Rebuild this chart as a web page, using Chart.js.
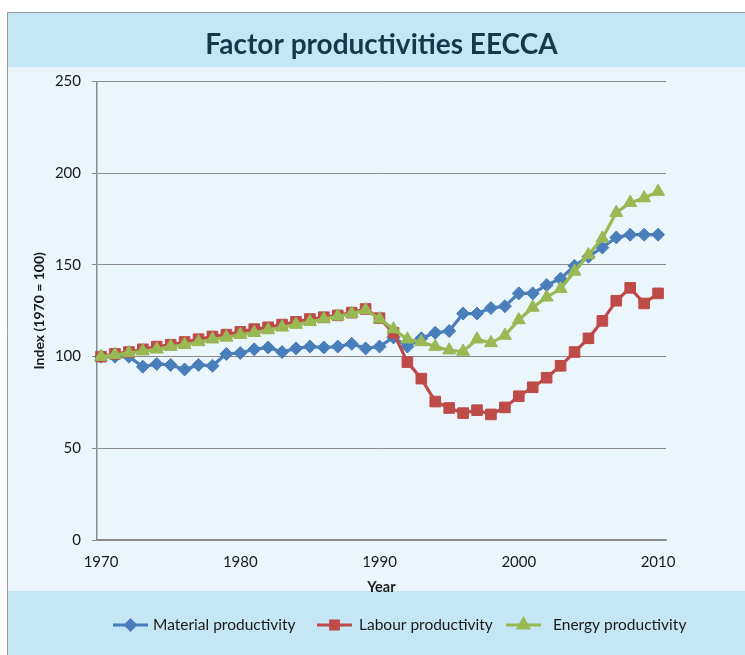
<!DOCTYPE html>
<html>
<head>
<meta charset="utf-8">
<script src="https://cdn.jsdelivr.net/npm/chart.js@4.4.0/dist/chart.umd.min.js"></script>
<style>
html,body{margin:0;padding:0;background:#fff;}
#wrap{width:745px;height:655px;position:relative;}
canvas{display:block;}
</style>
</head>
<body>
<div id="wrap"><canvas id="c" width="745" height="655"></canvas></div>
<script>
const years = [1970,1971,1972,1973,1974,1975,1976,1977,1978,1979,1980,1981,1982,1983,1984,1985,1986,1987,1988,1989,1990,1991,1992,1993,1994,1995,1996,1997,1998,1999,2000,2001,2002,2003,2004,2005,2006,2007,2008,2009,2010];
const materialProductivity = [100,100,100,94.5,96,95.5,93,95.5,95,101.5,102,104,105,102.5,104.5,105.5,105,105.5,107,104.5,105.5,110.5,105.5,110,113,114,123.5,123.5,126.5,127.5,134.5,134.5,139,142.5,149.5,154.5,159.5,165,166.5,166.5,166.5];
const labourProductivity = [100,101.5,102.5,104,105.5,106.5,108,109.5,111,112,113.5,115,116,117.5,119,120.5,121.5,122.5,124,126,121,113,97,88,75.5,72,69.2,70.8,68.5,72.3,78.4,83.3,88.5,95,102.5,110,119.5,130.5,137.5,129,134.5];
const energyProductivity = [100,101,102,103,104,105.5,106.5,108,109.5,110.5,112,113,114.5,116,117.5,119,120.5,122,123.5,125.5,120.5,115,109.5,108,105.5,103.5,102.8,109.5,107.5,111.5,120,126.8,132.4,137,146.5,155.5,164.5,178.5,184,186.5,190];
const xTicks = [1970,1980,1990,2000,2010];
const yTicks = [0,50,100,150,200,250];
const seriesNames = ['Material productivity','Labour productivity','Energy productivity'];
const chartTitle = 'Factor productivities EECCA';
const xTitle = 'Year';
const yTitle = 'Index (1970 = 100)';

const FONT = 'Lato, "Open Sans", "Liberation Sans", sans-serif';
const BLUE = '#4A7EBB', RED = '#BE4B48', GREEN = '#98B954';
const GRID = '#8a8a8a';
const TXT = '#1a1a1a';

function pts(arr){ return years.map((y,i)=>({x:y,y:arr[i]})); }

const frame = {
  id:'frame',
  beforeDraw(chart){
    const ctx = chart.ctx;
    ctx.save();
    ctx.fillStyle = '#ffffff';
    ctx.fillRect(0,0,chart.width,chart.height);
    ctx.fillStyle = '#C5E6F5';
    ctx.fillRect(7,12,chart.width-7,55);
    ctx.fillStyle = '#EBF6FC';
    ctx.fillRect(7,67,chart.width-7,524);
    ctx.fillStyle = '#C5E6F5';
    ctx.fillRect(7,591,chart.width-7,chart.height-591);
    ctx.strokeStyle = '#9a9a9a';
    ctx.lineWidth = 1;
    ctx.beginPath();
    ctx.moveTo(7.5,chart.height);
    ctx.lineTo(7.5,12.5);
    ctx.lineTo(chart.width,12.5);
    ctx.stroke();
    ctx.restore();
  }
};

const legendItems = [
  {lx1:113, lx2:148, tx:153},
  {lx1:317, lx2:352, tx:359},
  {lx1:506, lx2:541, tx:553}
];
const legendRadius = [5,5.5,6];
const customLegend = {
  id:'customLegend',
  afterDraw(chart){
    const ctx = chart.ctx;
    const ly = 625;
    chart.data.datasets.forEach((ds,i)=>{
      const it = legendItems[i];
      ctx.save();
      ctx.strokeStyle = ds.borderColor;
      ctx.lineWidth = 3;
      ctx.beginPath();
      ctx.moveTo(it.lx1,ly); ctx.lineTo(it.lx2,ly); ctx.stroke();
      Chart.helpers.drawPoint(ctx,{pointStyle:ds.pointStyle,radius:legendRadius[i],rotation:0,borderWidth:1},(it.lx1+it.lx2)/2,ly);
      ctx.fillStyle = ds.pointBackgroundColor;
      ctx.fill();
      ctx.fillStyle = TXT;
      ctx.font = '15.5px ' + FONT;
      ctx.textBaseline = 'middle';
      ctx.textAlign = 'left';
      ctx.fillText(ds.label,it.tx,ly);
      ctx.restore();
    });
  }
};

function ds(label,data,color,style,r,order){
  return {label, data:pts(data), borderColor:color, backgroundColor:color,
    pointBackgroundColor:color, pointBorderColor:color, pointStyle:style,
    pointRadius:r, pointHoverRadius:r, pointBorderWidth:1, borderWidth:3.2,
    showLine:true, tension:0, clip:false, order};
}

new Chart(document.getElementById('c'),{
  type:'scatter',
  data:{datasets:[
    ds(seriesNames[0],materialProductivity,BLUE,'rectRot',6.5,3),
    ds(seriesNames[1],labourProductivity,RED,'rect',7.5,2),
    ds(seriesNames[2],energyProductivity,GREEN,'triangle',7.5,1)
  ]},
  options:{
    responsive:false, animation:false, devicePixelRatio:1,
    layout:{padding:{top:12,left:0,right:79,bottom:59}},
    plugins:{
      legend:{display:false},
      tooltip:{enabled:false},
      title:{display:true,text:chartTitle,fullSize:false,color:'#17384A',
        font:{family:FONT,size:28,weight:'bold'},padding:{top:16,bottom:20}}
    },
    scales:{
      x:{type:'linear',min:1969.71,max:2010.57,
        afterBuildTicks(s){ s.ticks = xTicks.map(v=>({value:v})); },
        ticks:{padding:13,color:TXT,font:{family:FONT,size:15},maxRotation:0,autoSkip:false,callback:v=>String(v)},
        grid:{display:false,drawTicks:false},
        border:{display:true,color:GRID,width:1.5},
        title:{display:true,text:xTitle,color:TXT,font:{family:FONT,size:14.5,weight:'bold'},padding:{top:0,bottom:0}},
        afterFit(s){ s.height = 56; }
      },
      y:{min:0,max:250,
        afterBuildTicks(s){ s.ticks = yTicks.map(v=>({value:v})); },
        ticks:{padding:11,color:TXT,font:{family:FONT,size:15}},
        grid:{color:GRID,lineWidth:1,drawTicks:true,tickLength:5},
        border:{display:true,color:GRID,width:1.5},
        title:{display:true,text:yTitle,color:TXT,font:{family:FONT,size:14,weight:'bold'},padding:{top:31,bottom:0}},
        afterFit(s){ s.width = 97; }
      }
    }
  },
  plugins:[frame,customLegend]
});
</script>
</body>
</html>
